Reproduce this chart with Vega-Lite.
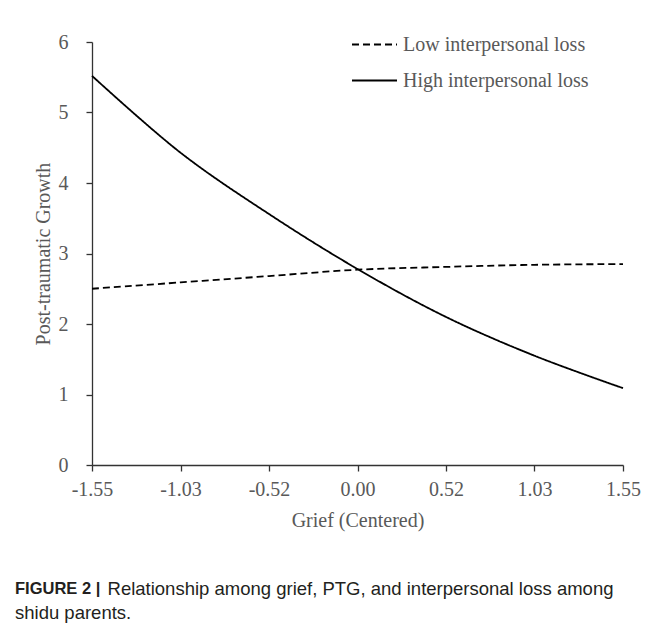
{
  "$schema": "https://vega.github.io/schema/vega-lite/v6.json",
  "width": 531,
  "height": 423,
  "autosize": {"type": "none"},
  "padding": {"left": 92, "top": 42, "right": 34, "bottom": 164},
  "background": "white",
  "config": {
    "view": {"stroke": null},
    "font": "Liberation Serif",
    "legend": {
      "orient": "none",
      "legendX": 259,
      "legendY": -21,
      "padding": 0,
      "labelFont": "Liberation Serif",
      "labelFontSize": 20,
      "labelColor": "#595959",
      "labelLimit": 400,
      "symbolType": "stroke",
      "symbolSize": 2025,
      "symbolStrokeWidth": 1.8,
      "symbolStrokeColor": "black",
      "labelOffset": 5
    }
  },
  "title": {
    "text": "FIGURE 2 |",
    "subtitle": ["\u200b\u00a0\u00a0\u00a0\u00a0\u00a0\u00a0\u00a0\u00a0\u00a0\u00a0\u00a0\u00a0\u00a0\u00a0\u00a0\u00a0\u00a0\u00a0Relationship among grief, PTG, and interpersonal loss among", "shidu parents."],
    "orient": "bottom",
    "anchor": "start",
    "frame": "group",
    "font": "Liberation Sans",
    "fontSize": 16.5,
    "fontWeight": "bold",
    "color": "#231f20",
    "subtitleFont": "Liberation Sans",
    "subtitleFontSize": 18.5,
    "subtitleFontWeight": "normal",
    "subtitleColor": "#231f20",
    "subtitlePadding": -18,
    "subtitleLineHeight": 24,
    "dx": -77,
    "offset": 51,
    "limit": 700
  },
  "data": {
    "values": [
      {"grief": -1.55, "ptg": 2.50, "group": "Low interpersonal loss"},
      {"grief": -1.0333, "ptg": 2.59, "group": "Low interpersonal loss"},
      {"grief": -0.5167, "ptg": 2.68, "group": "Low interpersonal loss"},
      {"grief": 0, "ptg": 2.77, "group": "Low interpersonal loss"},
      {"grief": 0.5167, "ptg": 2.81, "group": "Low interpersonal loss"},
      {"grief": 1.0333, "ptg": 2.84, "group": "Low interpersonal loss"},
      {"grief": 1.55, "ptg": 2.85, "group": "Low interpersonal loss"},
      {"grief": -1.55, "ptg": 5.52, "group": "High interpersonal loss"},
      {"grief": -1.0333, "ptg": 4.43, "group": "High interpersonal loss"},
      {"grief": -0.5167, "ptg": 3.56, "group": "High interpersonal loss"},
      {"grief": 0, "ptg": 2.78, "group": "High interpersonal loss"},
      {"grief": 0.5167, "ptg": 2.10, "group": "High interpersonal loss"},
      {"grief": 1.0333, "ptg": 1.55, "group": "High interpersonal loss"},
      {"grief": 1.55, "ptg": 1.09, "group": "High interpersonal loss"}
    ]
  },
  "mark": {"type": "line", "interpolate": "catmull-rom", "strokeWidth": 1.8, "color": "black"},
  "encoding": {
    "x": {
      "field": "grief",
      "type": "quantitative",
      "scale": {"domain": [-1.55, 1.55], "nice": false, "zero": false},
      "axis": {
        "values": [-1.55, -1.0333, -0.5167, 0, 0.5167, 1.0333, 1.55],
        "labelExpr": "replace(format(datum.value, '.2f'), '\u2212', '-')",
        "title": "Grief (Centered)",
        "grid": false,
        "labelFont": "Liberation Serif",
        "labelFontSize": 20,
        "labelColor": "#595959",
        "labelPadding": 8,
        "labelFlush": false,
        "labelOverlap": false,
        "tickSize": 6,
        "tickColor": "#333333",
        "tickWidth": 1.3,
        "domainColor": "#333333",
        "domainWidth": 1.3,
        "titleFont": "Liberation Serif",
        "titleFontSize": 20,
        "titleFontWeight": "normal",
        "titleColor": "#595959",
        "titlePadding": 11
      }
    },
    "y": {
      "field": "ptg",
      "type": "quantitative",
      "scale": {"domain": [0, 6], "nice": false},
      "axis": {
        "values": [0, 1, 2, 3, 4, 5, 6],
        "title": "Post-traumatic Growth",
        "grid": false,
        "labelFont": "Liberation Serif",
        "labelFontSize": 20,
        "labelColor": "#595959",
        "labelPadding": 18,
        "tickSize": 6,
        "tickColor": "#333333",
        "tickWidth": 1.3,
        "domainColor": "#333333",
        "domainWidth": 1.3,
        "titleFont": "Liberation Serif",
        "titleFontSize": 20,
        "titleFontWeight": "normal",
        "titleColor": "#595959",
        "titlePadding": 5
      }
    },
    "strokeDash": {
      "field": "group",
      "type": "nominal",
      "scale": {
        "domain": ["Low interpersonal loss", "High interpersonal loss"],
        "range": [[7, 4], [1, 0]]
      },
      "legend": {"title": null}
    }
  }
}
